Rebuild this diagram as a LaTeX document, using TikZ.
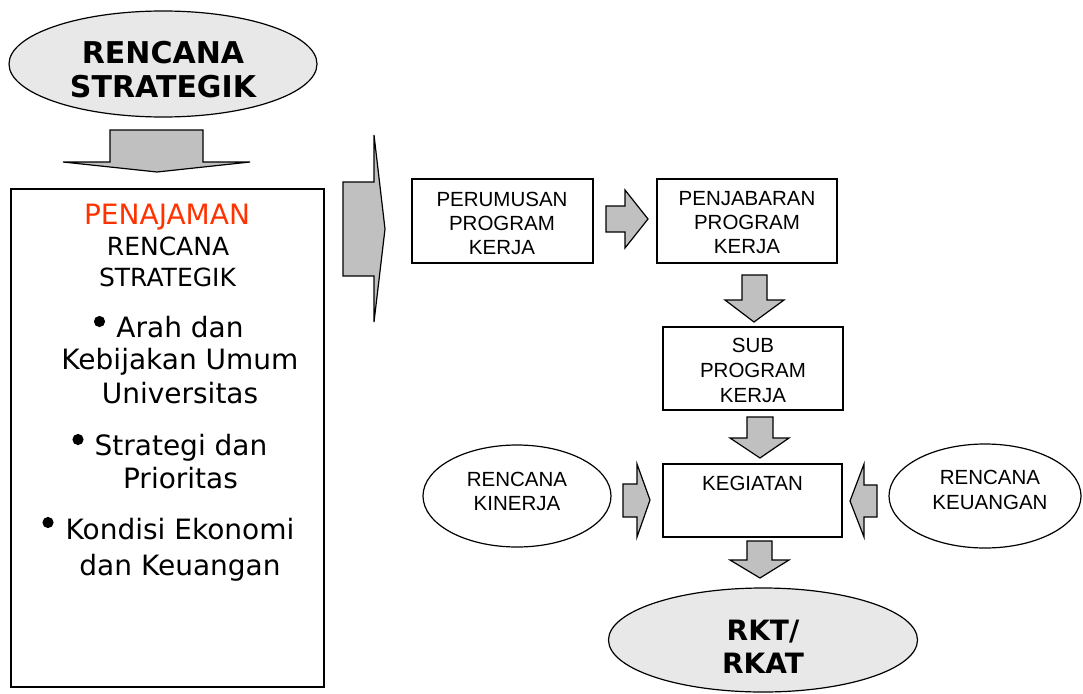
\documentclass[tikz,border=0pt]{standalone}
\usepackage{fontspec}
\setmainfont{DejaVu Sans}
\newfontfamily\arialf{Liberation Sans}
\usetikzlibrary{shapes.geometric}
\definecolor{ellfill}{HTML}{E8E8E8}
\definecolor{arrfill}{HTML}{C0C0C0}
\definecolor{redtxt}{HTML}{FF3300}
\begin{document}
\begin{tikzpicture}[x=1pt,y=-1pt, line join=miter,
  shapeline/.style={draw=black, line width=1.2pt},
  ellfilled/.style={shapeline, ellipse, fill=ellfill, inner sep=0pt},
  ellwhite/.style={shapeline, ellipse, fill=white, inner sep=0pt},
  boxshape/.style={shapeline, rectangle, fill=white, inner sep=0pt},
  blockarrow/.style={shapeline, fill=arrfill},
  bulletdot/.style={fill=black},
  boldtxt/.style={font=\bfseries\fontsize{30}{34}\selectfont, align=center, inner sep=0pt},
  rktxt/.style={font=\bfseries\fontsize{28}{33}\selectfont, align=center, inner sep=0pt},
  headtxt/.style={font=\fontsize{28}{34}\selectfont, inner sep=0pt, anchor=base},
  subtxt/.style={font=\fontsize{25}{31}\selectfont, inner sep=0pt, anchor=base},
  listtxt/.style={font=\fontsize{28}{34}\selectfont, inner sep=0pt, anchor=base},
  ariatxt/.style={font=\arialf\fontsize{20.5}{24}\selectfont, align=center, inner sep=0pt},
  ariatxtw/.style={font=\arialf\fontsize{20.5}{25}\selectfont, align=center, inner sep=0pt}
]
\useasboundingbox (0,0) rectangle (1083,693);

% top ellipse
\node[ellfilled, minimum width=308, minimum height=106] (rs) at (163,64) {};
\node[boldtxt] (rstxt) at (163,69.5) {RENCANA\\STRATEGIK};

% top down arrow
\draw[blockarrow] (110,130) -- (203,130) -- (203,162) -- (250,162) -- (157,172) -- (63,162) -- (110,162) -- cycle;

% left box
\node[boxshape, minimum width=313, minimum height=498] (left) at (167.5,438) {};
\node[headtxt] (l1) at (167,224) {\textcolor{redtxt}{PENAJAMAN}};
\node[subtxt] (l2) at (168,255) {RENCANA};
\node[subtxt] (l3) at (167.5,286) {STRATEGIK};
\fill[bulletdot] (99.5,321.5) circle (5.6);
\node[listtxt] (l4) at (180,337) {Arah dan};
\node[listtxt] (l5) at (180,369) {Kebijakan Umum};
\node[listtxt] (l6) at (180,403) {Universitas};
\fill[bulletdot] (78,439.5) circle (5.6);
\node[listtxt] (l7) at (181,455) {Strategi dan};
\node[listtxt] (l8) at (180.5,488) {Prioritas};
\fill[bulletdot] (48,522.5) circle (5.6);
\node[listtxt] (l9) at (180,539) {Kondisi Ekonomi};
\node[listtxt] (l10) at (180,575) {dan Keuangan};

% big chevron arrow
\draw[blockarrow] (343,182) -- (374,182) -- (374,135) -- (385,229) -- (374,322) -- (374,276) -- (343,276) -- cycle;

% perumusan
\node[boxshape, minimum width=181, minimum height=84] (perum) at (502.5,221) {};
\node[ariatxt] (perumtxt) at (502,223) {PERUMUSAN\\PROGRAM\\KERJA};

% small right arrow
\draw[blockarrow] (606,206) -- (625,206) -- (625,190) -- (648,219) -- (625,248) -- (625,232) -- (606,232) -- cycle;

% penjabaran
\node[boxshape, minimum width=180, minimum height=84] (penj) at (747,221) {};
\node[ariatxt] (penjtxt) at (747,223) {PENJABARAN\\PROGRAM\\KERJA};

% down arrow
\draw[blockarrow] (742,275) -- (767,275) -- (767,300) -- (784,300) -- (754,322) -- (725,300) -- (742,300) -- cycle;

% sub program
\node[boxshape, minimum width=180, minimum height=83] (sub) at (753,368.5) {};
\node[ariatxtw] (subtxt) at (753,370) {SUB\\PROGRAM\\KERJA};

% down arrow
\draw[blockarrow] (747,417) -- (773,417) -- (773,438) -- (789,438) -- (760,458) -- (730,438) -- (747,438) -- cycle;

% kegiatan
\node[boxshape, minimum width=179, minimum height=73] (keg) at (752.5,500.5) {};
\node[ariatxt] (kegtxt) at (752.5,483.5) {KEGIATAN};

% rencana kinerja
\node[ellwhite, minimum width=188, minimum height=102] (kin) at (517,496) {};
\node[ariatxt] (kintxt) at (517,491) {RENCANA\\KINERJA};
\draw[blockarrow] (623,484) -- (637,484) -- (637,464) -- (650,500) -- (637,537) -- (637,517) -- (623,517) -- cycle;

% rencana keuangan
\node[ellwhite, minimum width=192, minimum height=104] (keu) at (985,496) {};
\node[ariatxtw] (keutxt) at (990,489.5) {RENCANA\\KEUANGAN};
\draw[blockarrow] (877,485) -- (864,485) -- (864,464) -- (850,501) -- (864,537) -- (864,517) -- (877,517) -- cycle;

% down arrow
\draw[blockarrow] (747,541) -- (772,541) -- (772,560) -- (789,560) -- (760,578) -- (730,560) -- (747,560) -- cycle;

% RKT ellipse
\node[ellfilled, minimum width=309, minimum height=104] (rkt) at (763,640) {};
\node[rktxt] (rkttxt) at (763,646.5) {RKT/\\RKAT};
\end{tikzpicture}
\end{document}
